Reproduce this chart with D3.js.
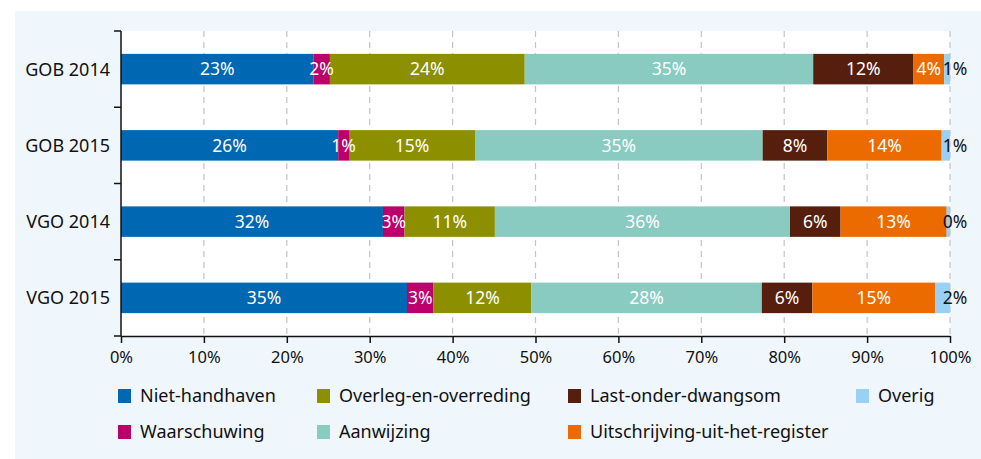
<!DOCTYPE html>
<meta charset="utf-8">
<script src="https://cdn.jsdelivr.net/npm/d3@7"></script>
<style>
  body { margin: 0; background: #fff; }
  svg { display: block; font-family: "Noto Sans", sans-serif; }
</style>
<body>
<script>

var width = 981
var height = 459

// data (percentages)
var categories = ["GOB 2014", "GOB 2015", "VGO 2014", "VGO 2015"]
var series = ["Niet-handhaven", "Waarschuwing", "Overleg-en-overreding", "Aanwijzing",
              "Last-onder-dwangsom", "Uitschrijving-uit-het-register", "Overig"]
var nietHandhaven = [23.2, 26.2, 31.6, 34.5]
var waarschuwing  = [2.0, 1.3, 2.6, 3.2]
var overleg       = [23.5, 15.2, 10.9, 11.8]
var aanwijzing    = [34.8, 34.7, 35.6, 27.8]
var lastOnder     = [12.1, 7.8, 6.1, 6.1]
var uitschrijving = [3.7, 13.8, 12.8, 14.8]
var overig        = [0.7, 1.0, 0.4, 1.8]
var xTicks = [0, 10, 20, 30, 40, 50, 60, 70, 80, 90, 100]

var colors = ["#0068b3", "#bb006b", "#8c8f00", "#89cbc0", "#561f0d", "#ec6b00", "#98d1f3"]

var values = [nietHandhaven, waarschuwing, overleg, aanwijzing, lastOnder, uitschrijving, overig]
var table = categories.map(function(c, i) {
  var row = { cat: c }
  series.forEach(function(s, j) { row[s] = values[j][i] })
  return row
})

var margin = { left: 121, right: 31, top: 31, bottom: 123 }

var x = d3.scaleLinear().domain([0, 100]).range([margin.left, width - margin.right])
var y = d3.scaleBand().domain(categories).range([margin.top, height - margin.bottom]).paddingInner(0.6).paddingOuter(0.3)
var color = d3.scaleOrdinal().domain(series).range(colors)

var svg = d3.select("body").append("svg").attr("width", width).attr("height", height)

// panel background
svg.append("rect").attr("x", 15).attr("y", 11).attr("width", width - 15).attr("height", height - 11).attr("fill", "#eff7fd")
svg.append("rect").attr("x", x(0)).attr("y", margin.top).attr("width", x(100) - x(0))
   .attr("height", height - margin.bottom - margin.top).attr("fill", "#fff")

// dashed gridlines
svg.append("g").selectAll("line").data(xTicks.slice(1)).join("line")
   .attr("x1", d => x(d)).attr("x2", d => x(d))
   .attr("y1", margin.top).attr("y2", height - margin.bottom)
   .attr("stroke", "#c4c4c4").attr("stroke-width", 1.2).attr("stroke-dasharray", "6,5")

var stacked = d3.stack().keys(series)(table)

var layers = svg.append("g").selectAll("g").data(stacked).join("g").attr("fill", d => color(d.key))
layers.selectAll("rect").data(d => d).join("rect")
   .attr("x", d => x(d[0])).attr("width", d => x(d[1]) - x(d[0]))
   .attr("y", d => y(d.data.cat)).attr("height", y.bandwidth())

// value labels
var labels = svg.append("g").attr("font-size", 17.5)
stacked.forEach(function(layer, j) {
  layer.forEach(function(d) {
    var last = j == series.length - 1
    labels.append("text")
      .attr("x", last ? x(100) + 5 : (x(d[0]) + x(d[1])) / 2)
      .attr("y", y(d.data.cat) + y.bandwidth() / 2)
      .attr("dy", "0.36em")
      .attr("text-anchor", "middle")
      .attr("fill", last ? "#111" : "#fff")
      .text(Math.round(d[1] - d[0]) + "%")
  })
})

// axes
var yAxis = svg.append("g").attr("transform", "translate(" + x(0) + ",0)")
yAxis.append("line").attr("y1", margin.top).attr("y2", height - margin.bottom).attr("stroke", "#111").attr("stroke-width", 1.5)
yAxis.selectAll(".tk").data(d3.range(categories.length + 1)).join("line")
   .attr("x1", -7).attr("x2", 0)
   .attr("y1", i => margin.top + i * (height - margin.bottom - margin.top) / categories.length)
   .attr("y2", i => margin.top + i * (height - margin.bottom - margin.top) / categories.length)
   .attr("stroke", "#111").attr("stroke-width", 1.5)
yAxis.selectAll("text").data(categories).join("text")
   .attr("x", -11).attr("y", d => y(d) + y.bandwidth() / 2).attr("dy", "0.36em")
   .attr("text-anchor", "end").attr("font-size", 18).attr("fill", "#111").text(d => d)

var xAxis = svg.append("g").attr("transform", "translate(0," + (height - margin.bottom) + ")")
   .call(d3.axisBottom(x).tickValues(xTicks).tickSize(7).tickSizeOuter(0).tickFormat(d => d + "%"))
xAxis.select(".domain").attr("stroke", "#111").attr("stroke-width", 1.5)
xAxis.selectAll(".tick line").attr("stroke", "#111").attr("stroke-width", 1.5)
xAxis.selectAll(".tick text").attr("font-size", 16.5).attr("fill", "#111").attr("dy", "1.05em")
   .attr("font-family", "'Noto Sans', sans-serif")

// legend
var legendPos = [[118, 396], [118, 432], [317, 396], [317, 432], [568, 396], [568, 432], [856, 396]]
var legend = svg.append("g").selectAll("g").data(series).join("g")
   .attr("transform", (d, i) => "translate(" + legendPos[i][0] + "," + legendPos[i][1] + ")")
legend.append("rect").attr("x", 0).attr("y", -7).attr("width", 13).attr("height", 14).attr("fill", d => color(d))
legend.append("text").attr("x", 22).attr("dy", "0.36em").attr("font-size", 18).attr("fill", "#111").text(d => d)

</script>
</body>
